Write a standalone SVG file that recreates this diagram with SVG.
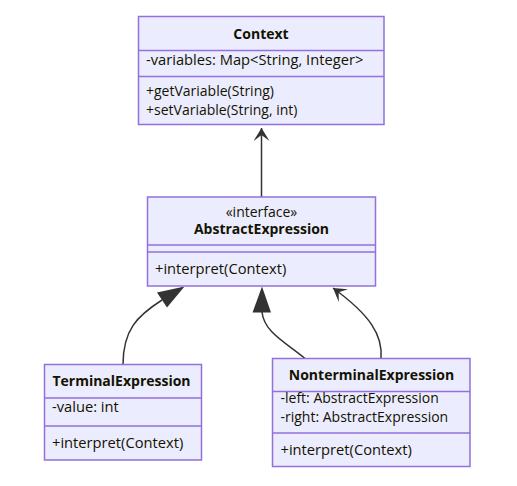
<svg xmlns="http://www.w3.org/2000/svg" width="517" height="486" viewBox="0 0 517 486">
<defs>
<style>
.box{fill:#ECECFF;stroke:#9370DB;stroke-width:1.5}
.div{stroke:#9370DB;stroke-width:1.5}
.edge{fill:none;stroke:#333;stroke-width:1.5}
.head{fill:#333;stroke:none}
text{font-family:"Open Sans","Noto Sans","Liberation Sans",sans-serif;fill:#131300}
.t{font-size:14px;font-weight:bold;text-anchor:middle}
.m{font-size:14.7px}
.s{font-size:14px}
.c{font-size:14px;text-anchor:middle}
</style>
<marker id="vee" markerUnits="userSpaceOnUse" markerWidth="14" markerHeight="16" refX="13" refY="8" orient="auto" viewBox="0 0 14 16">
<path class="head" d="M0,0 L13,8 L0,16 L6,8 Z"/>
</marker>
</defs>
<g id="connectors">
<path class="edge" d="M261.5,197 L261.5,128" marker-end="url(#vee)"/>
<path class="edge" d="M123,364.5 C123,330 137,316 162,300"/>
<polygon class="head" points="184.5,286.5 157,292.5 167,307.5"/>
<path class="edge" d="M262,312 C264,332 285,342 305,358.5"/>
<polygon class="head" points="262,286.5 252.5,312.5 271,312.5"/>
<path class="edge" d="M381,358.5 C383,335 370,315 333,288" marker-end="url(#vee)"/>
</g>
<g id="Context">
<rect class="box" x="138.5" y="16.5" width="245.5" height="108"/>
<line class="div" x1="138.5" y1="50.5" x2="384" y2="50.5"/>
<line class="div" x1="138.5" y1="76.5" x2="384" y2="76.5"/>
<text class="t" x="261" y="39">Context</text>
<text class="m" x="146" y="65">-variables: Map&lt;String, Integer&gt;</text>
<text class="s" x="146" y="95.5">+getVariable(String)</text>
<text class="s" x="146" y="114.8">+setVariable(String, int)</text>
</g>
<g id="AbstractExpression">
<rect class="box" x="147.5" y="197" width="228" height="89"/>
<line class="div" x1="147.5" y1="245" x2="375.5" y2="245"/>
<line class="div" x1="147.5" y1="252" x2="375.5" y2="252"/>
<text class="c" x="261.5" y="216.5">«interface»</text>
<text class="t" x="261.5" y="234">AbstractExpression</text>
<text class="m" x="155" y="274">+interpret(Context)</text>
</g>
<g id="TerminalExpression">
<rect class="box" x="44.5" y="364.5" width="157" height="95.5"/>
<line class="div" x1="44.5" y1="398" x2="201.5" y2="398"/>
<line class="div" x1="44.5" y1="426" x2="201.5" y2="426"/>
<text class="t" x="121.5" y="386">TerminalExpression</text>
<text class="m" x="52" y="412">-value: int</text>
<text class="m" x="52" y="448">+interpret(Context)</text>
</g>
<g id="NonterminalExpression">
<rect class="box" x="272.5" y="358.5" width="197.5" height="108"/>
<line class="div" x1="272.5" y1="391.5" x2="470" y2="391.5"/>
<line class="div" x1="272.5" y1="433" x2="470" y2="433"/>
<text class="t" x="371.5" y="380">NonterminalExpression</text>
<text class="s" x="280.5" y="402.5">-left: AbstractExpression</text>
<text class="s" x="280.5" y="421.8">-right: AbstractExpression</text>
<text class="m" x="280.5" y="455">+interpret(Context)</text>
</g>
</svg>
